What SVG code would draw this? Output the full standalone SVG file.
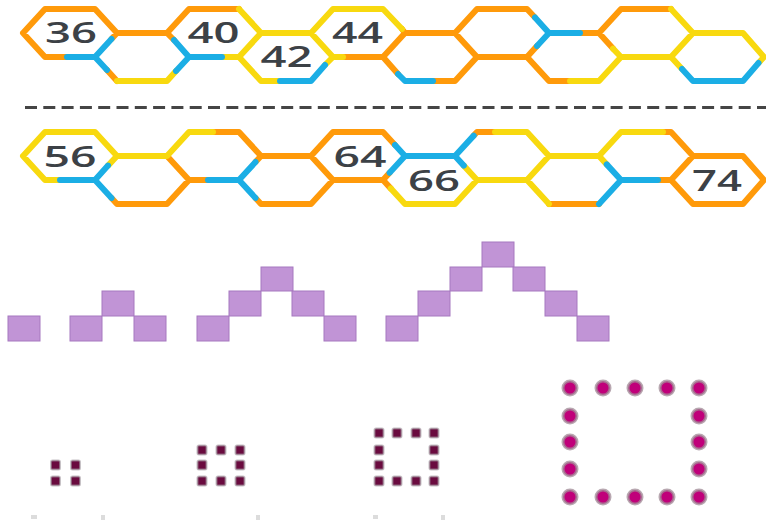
<svg xmlns="http://www.w3.org/2000/svg" width="766" height="521" viewBox="0 0 766 521">
<style>
.e{fill:none;stroke-width:6;stroke-linecap:round;stroke-linejoin:round}
.o{stroke:#ff9a0a}
.y{stroke:#f8d90f}
.b{stroke:#1baee5}
.n{font-family:"Open Sans","DejaVu Sans",sans-serif;font-size:29.5px;font-weight:600;fill:#3c4146;text-anchor:middle}
.sq{fill:#c194d6;stroke:#a678bf;stroke-width:1}
.sd{fill:#6a0b3f;stroke:#a29aa0;stroke-width:2;stroke-opacity:.6}
.bd{fill:#c0007a;stroke:#a08a96;stroke-width:3;stroke-opacity:.75}
.fm{fill:#dcdcdc}
</style>
<rect width="766" height="521" fill="#ffffff"/>
<g id="row1">
<path class="e o" d="M23 33L45 9L95 9L117 33M23 33L45 57L67 57M111.5 39L117 33L167 33L189 9L239 9M167 33L174 40M107 70L117 81M343 57L383 57L398 74M402 29L405 33L383 57M405 33L455 33L477 9L527 9L535 17.5M455 33L477 57L455 81L433 81M477 57L527 57L537 46M527 57L549 81L570 81M580 33L599 33L621 9L671 9M599 33L613 48.6"/>
<path class="e y" d="M117 81L167 81L176 71M222 57L239 57M239 9L261 33L239 57L261 81L280 81M261 33L311 33L333 9L383 9L402 29M311 33L333 57L343 57M325 65L333 57M570 81L599 81L621 57L613 48.6M621 57L671 57L693 33L671 9M693 33L743 33L764 57L758.5 63M671 57L682 69"/>
<path class="e b" d="M67 57L95 57L111.5 39M95 57L107 70M174 40L189 57L222 57M189 57L176 71M280 81L311 81L325 65M398 74L405 81L433 81M535 17.5L549 33L580 33M549 33L537 46M682 69L693 81L743 81L758.5 63"/>
<text class="n" x="71" y="43" textLength="52" lengthAdjust="spacingAndGlyphs">36</text>
<text class="n" x="213.5" y="43" textLength="52" lengthAdjust="spacingAndGlyphs">40</text>
<text class="n" x="286.5" y="67" textLength="52" lengthAdjust="spacingAndGlyphs">42</text>
<text class="n" x="357.5" y="43" textLength="51" lengthAdjust="spacingAndGlyphs">44</text>
</g>
<line id="divider" x1="25" y1="107.5" x2="766" y2="107.5" stroke="#454545" stroke-width="3" stroke-dasharray="12 6.3"/>
<g id="row2">
<path class="e o" d="M111.5 198L117 204L167 204L189 180L167 156M189 180L208 180M213 132L239 132L261 156L255.5 162M261 156L311 156L333 132L383 132L395 145M255.5 198L261 204L311 204L333 180L311 156M333 180L383 180L390.7 188.4M389.6 172.8L383 180M473.7 135.6L477 132L495 132M549 204L599 204M663 132L671 132L693 156L671 180L658 180M693 156L743 156L764 180L743 204L693 204L671 180"/>
<path class="e y" d="M23 156L45 132L95 132L117 156L108 165.6M23 156L45 180L60 180M117 156L167 156L189 132L213 132M390.7 188.4L405 204L455 204L477 180L463.8 165.6M477 180L527 180L549 204M527 180L549 156L527 132L495 132M549 156L599 156L606.7 164.4M599 156L621 132L663 132"/>
<path class="e b" d="M60 180L95 180L108 165.6M95 180L111.5 198M208 180L239 180L255.5 162M239 180L255.5 198M395 145L405 156L455 156L463.8 165.6M405 156L389.6 172.8M455 156L473.7 135.6M606.7 164.4L621 180L599 204M621 180L658 180"/>
<text class="n" x="70" y="167" textLength="53" lengthAdjust="spacingAndGlyphs">56</text>
<text class="n" x="360" y="167" textLength="53" lengthAdjust="spacingAndGlyphs">64</text>
<text class="n" x="434" y="191" textLength="52" lengthAdjust="spacingAndGlyphs">66</text>
<text class="n" x="717" y="191" textLength="50" lengthAdjust="spacingAndGlyphs">74</text>
</g>
<g id="squares">
<g id="fig1"><rect class="sq" x="8" y="316" width="32" height="25"/></g>
<g id="fig2"><rect class="sq" x="70" y="316" width="32" height="25"/><rect class="sq" x="102" y="291" width="32" height="25"/><rect class="sq" x="134" y="316" width="32" height="25"/></g>
<g id="fig3"><rect class="sq" x="197" y="316" width="32" height="25"/><rect class="sq" x="229" y="291" width="32" height="25"/><rect class="sq" x="261" y="267" width="32" height="24"/><rect class="sq" x="292" y="291" width="32" height="25"/><rect class="sq" x="324" y="316" width="32" height="25"/></g>
<g id="fig4"><rect class="sq" x="386" y="316" width="32" height="25"/><rect class="sq" x="418" y="291" width="32" height="25"/><rect class="sq" x="450" y="267" width="32" height="24"/><rect class="sq" x="482" y="242" width="32" height="25"/><rect class="sq" x="513" y="267" width="32" height="24"/><rect class="sq" x="545" y="291" width="32" height="25"/><rect class="sq" x="577" y="316" width="32" height="25"/></g>
</g>
<g id="dots">
<g id="dots1"><rect class="sd" x="51" y="460.5" width="9" height="9" rx="1.5"/><rect class="sd" x="71" y="460.5" width="9" height="9" rx="1.5"/><rect class="sd" x="51" y="476.5" width="9" height="9" rx="1.5"/><rect class="sd" x="71" y="476.5" width="9" height="9" rx="1.5"/></g>
<g id="dots2"><rect class="sd" x="197.5" y="445.5" width="9" height="9" rx="1.5"/><rect class="sd" x="216.5" y="445.5" width="9" height="9" rx="1.5"/><rect class="sd" x="235.5" y="445.5" width="9" height="9" rx="1.5"/><rect class="sd" x="197.5" y="460.5" width="9" height="9" rx="1.5"/><rect class="sd" x="235.5" y="460.5" width="9" height="9" rx="1.5"/><rect class="sd" x="197.5" y="476.5" width="9" height="9" rx="1.5"/><rect class="sd" x="216.5" y="476.5" width="9" height="9" rx="1.5"/><rect class="sd" x="235.5" y="476.5" width="9" height="9" rx="1.5"/></g>
<g id="dots3"><rect class="sd" x="374.5" y="428.5" width="9" height="9" rx="1.5"/><rect class="sd" x="392.5" y="428.5" width="9" height="9" rx="1.5"/><rect class="sd" x="411.5" y="428.5" width="9" height="9" rx="1.5"/><rect class="sd" x="429.5" y="428.5" width="9" height="9" rx="1.5"/><rect class="sd" x="374.5" y="445.5" width="9" height="9" rx="1.5"/><rect class="sd" x="429.5" y="445.5" width="9" height="9" rx="1.5"/><rect class="sd" x="374.5" y="460.5" width="9" height="9" rx="1.5"/><rect class="sd" x="429.5" y="460.5" width="9" height="9" rx="1.5"/><rect class="sd" x="374.5" y="476.5" width="9" height="9" rx="1.5"/><rect class="sd" x="392.5" y="476.5" width="9" height="9" rx="1.5"/><rect class="sd" x="411.5" y="476.5" width="9" height="9" rx="1.5"/><rect class="sd" x="429.5" y="476.5" width="9" height="9" rx="1.5"/></g>
<g id="dots4"><circle class="bd" cx="570" cy="388" r="7"/><circle class="bd" cx="603" cy="388" r="7"/><circle class="bd" cx="635" cy="388" r="7"/><circle class="bd" cx="667" cy="388" r="7"/><circle class="bd" cx="699" cy="388" r="7"/><circle class="bd" cx="570" cy="416" r="7"/><circle class="bd" cx="699" cy="416" r="7"/><circle class="bd" cx="570" cy="442" r="7"/><circle class="bd" cx="699" cy="442" r="7"/><circle class="bd" cx="570" cy="469" r="7"/><circle class="bd" cx="699" cy="469" r="7"/><circle class="bd" cx="570" cy="497" r="7"/><circle class="bd" cx="603" cy="497" r="7"/><circle class="bd" cx="635" cy="497" r="7"/><circle class="bd" cx="667" cy="497" r="7"/><circle class="bd" cx="699" cy="497" r="7"/></g>
</g>
<g id="marks"><rect class="fm" x="31" y="515" width="6" height="4"/><rect class="fm" x="101" y="515" width="4" height="5"/><rect class="fm" x="256" y="515" width="4" height="5"/><rect class="fm" x="373" y="515" width="5" height="4"/><rect class="fm" x="441" y="515" width="4" height="5"/></g>
</svg>
